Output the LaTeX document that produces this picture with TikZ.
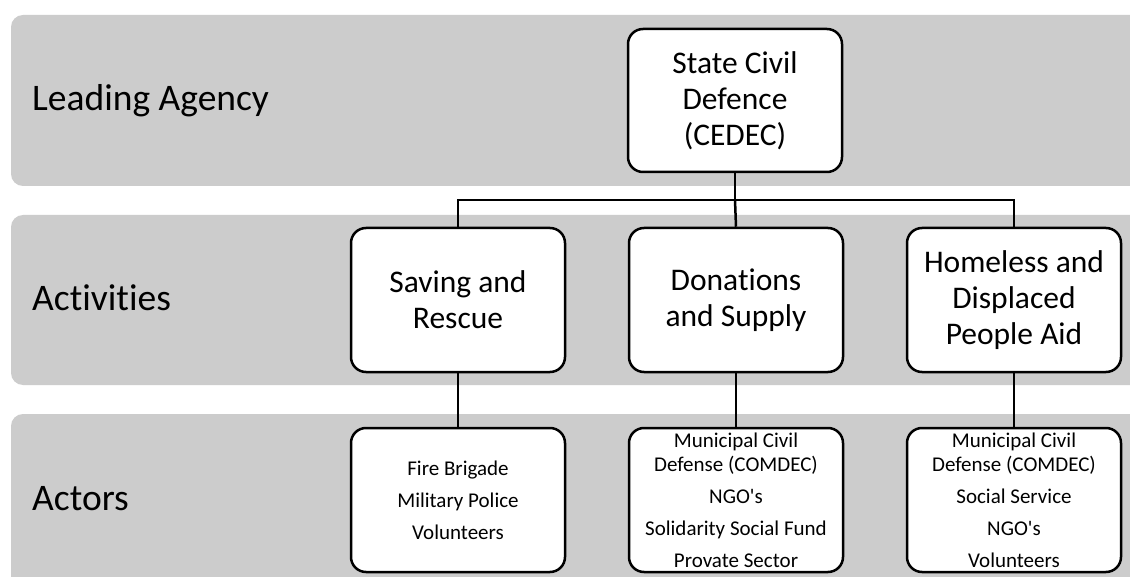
\documentclass[tikz,border=0pt]{standalone}
\usepackage{fontspec}
\setmainfont{Carlito}[Ligatures={NoCommon,TeXOff}]
\definecolor{bandgray}{HTML}{CCCCCC}
\begin{document}
\begin{tikzpicture}[x=1pt,y=-1pt,
  band/.style={fill=bandgray, rounded corners=12pt},
  bandlabel/.style={anchor=base west, inner sep=0pt, font=\fontsize{37.5}{45}\selectfont},
  box/.style={draw=black, fill=white, line width=2.5pt, rounded corners=15pt,
    minimum width=214pt, minimum height=144pt, align=center, inner sep=0pt},
  bigbox/.style={box, font=\fontsize{31.5}{36}\selectfont},
  smallbox/.style={box, font=\fontsize{21}{24}\selectfont},
  link/.style={draw=black, line width=2.5pt}
]
\clip (0,0) rectangle (1130,577);
\fill[white] (0,0) rectangle (1130,577);
% bands
\fill[band] (11,15) rectangle (1160,186);
\fill[band] (11,215) rectangle (1160,385);
\fill[band] (11,414) rectangle (1160,610);
\node[bandlabel] (lblA) at (32,111) {Leading Agency};
\node[bandlabel] (lblB) at (32,311) {Activities};
\node[bandlabel] (lblC) at (32,510) {Actors};
% nodes
\node[bigbox, minimum height=143pt] (cedec) at (735,100.5) {State Civil\\Defence\\(CEDEC)};
\node[bigbox] (saving) at (458,300) {Saving and\\Rescue};
\node[bigbox] (donations) at (736,300) {Donations\\and Supply};
\node[bigbox] (homeless) at (1014,300) {Homeless and\\Displaced\\People Aid};
\node[smallbox] (fire) at (458,500) {Fire Brigade\\[8pt]Military Police\\[8pt]Volunteers};
\node[smallbox] (muni1) at (736,500) {Municipal Civil\\Defense (COMDEC)\\[8pt]NGO's\\[8pt]Solidarity Social Fund\\[8pt]Provate Sector};
\node[smallbox] (muni2) at (1014,500) {Municipal Civil\\Defense (COMDEC)\\[8pt]Social Service\\[8pt]NGO's\\[8pt]Volunteers};
% connectors
\coordinate (bus) at (735,200);
\draw[link] (cedec.south) -- (bus);
\draw[link] (saving.north) |- (bus) -| (homeless.north);
\draw[link] (bus) -- (donations.north);
\draw[link] (saving.south) -- (fire.north);
\draw[link] (donations.south) -- (muni1.north);
\draw[link] (homeless.south) -- (muni2.north);
\end{tikzpicture}
\end{document}
